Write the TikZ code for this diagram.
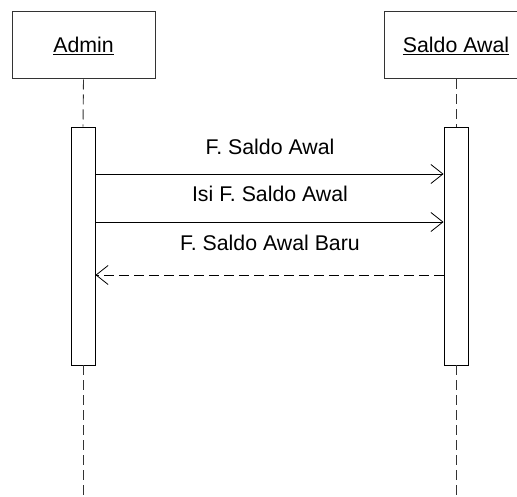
\documentclass[tikz,border=0pt]{standalone}
\usepackage{fontspec}
\setmainfont{Liberation Sans}
\usetikzlibrary{arrows.meta}
\begin{document}
\begin{tikzpicture}[x=1pt,y=-1pt,
  actor/.style={draw=black!80,line width=1pt,fill=white,minimum width=143pt,minimum height=67pt,inner sep=0pt,font=\fontsize{21.3}{24}\selectfont},
  activation/.style={draw=black,line width=0.9pt,fill=white,minimum width=24pt,minimum height=238pt,inner sep=0pt},
  lifeline/.style={draw=black!80,line width=0.9pt,dash pattern=on 10pt off 5pt},
  msg/.style={draw=black,line width=0.8pt,-{Straight Barb[length=12pt,width=19pt,line width=0.8pt]}},
  ret/.style={msg,dash pattern=on 10pt off 5pt},
  lbl/.style={font=\fontsize{21.3}{24}\selectfont,inner sep=0pt}]
\useasboundingbox (0,0) rectangle (517,497);
\clip (0,0) rectangle (517,497);
\node[actor] (admin) at (83.5,45.5) {\underline{Admin}};
\node[actor] (saldo) at (456,45.5) {\underline{Saldo Awal}};
\node[activation] (actA) at (83,246) {};
\node[activation] (actS) at (456,246) {};
\coordinate (endA) at (83,497);
\coordinate (endS) at (456,497);
\draw[lifeline] (admin.south) -- (actA.north);
\draw[lifeline] (saldo.south) -- (actS.north);
\draw[lifeline] (actA.south) -- (endA);
\draw[lifeline] (actS.south) -- (endS);
\draw[msg] (actA.east |- 0,174) -- (actS.west |- 0,174);
\draw[msg] (actA.east |- 0,222) -- (actS.west |- 0,222);
\draw[ret] (actS.west |- 0,275) -- (actA.east |- 0,275);
\node[lbl] (l1) at (270,147) {F. Saldo Awal};
\node[lbl] (l2) at (270,194) {Isi F. Saldo Awal};
\node[lbl] (l3) at (270,243) {F. Saldo Awal Baru};
\end{tikzpicture}
\end{document}
